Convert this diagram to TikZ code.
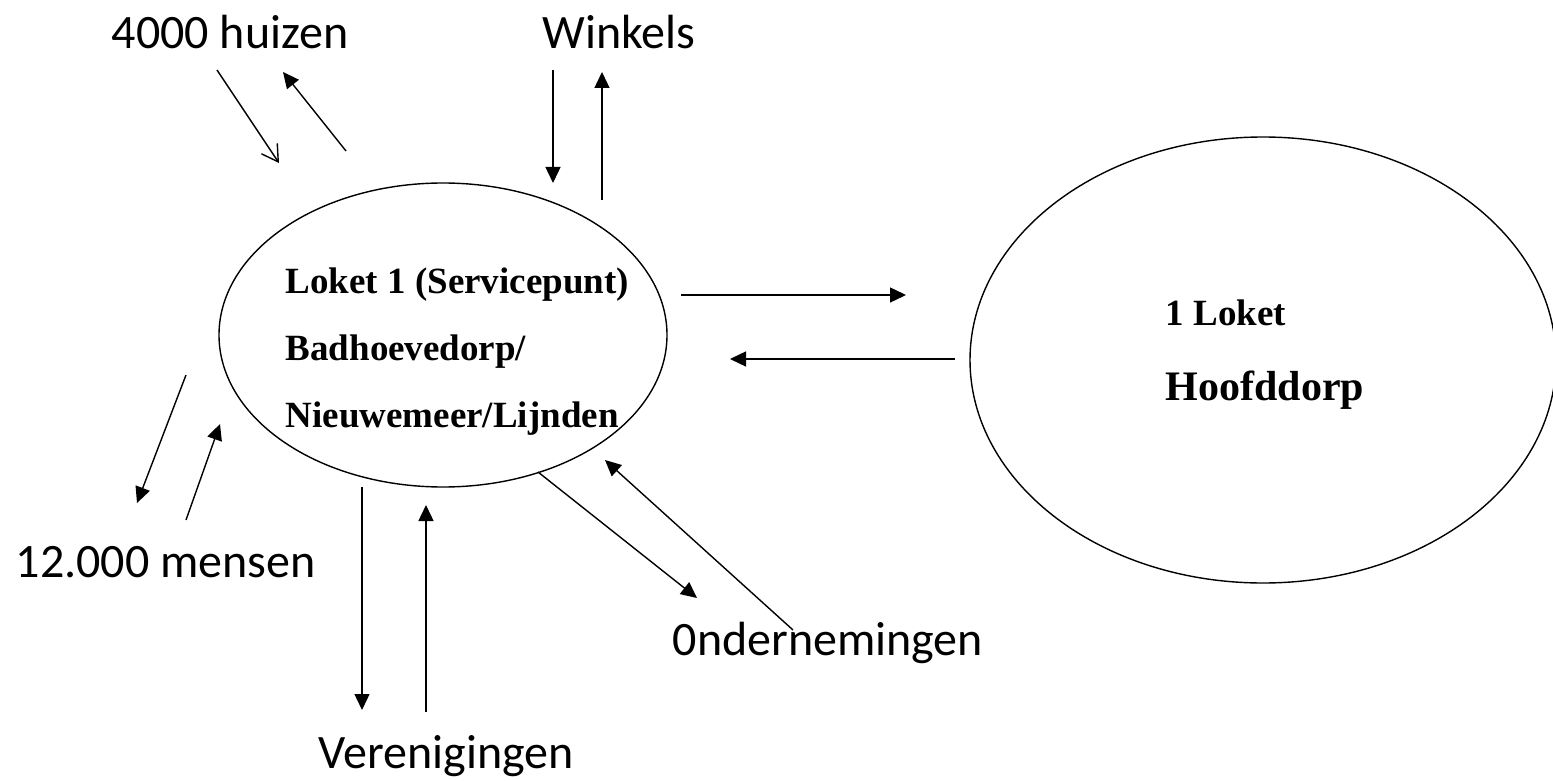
\documentclass[tikz,border=0pt]{standalone}
\usepackage{fontspec}
\setmainfont{Liberation Serif}
\newfontfamily\labelfont{Carlito}
\usetikzlibrary{arrows.meta,shapes.geometric}
\begin{document}
\begin{tikzpicture}[x=1pt,y=-1pt,
  line width=1.4pt,
  oval/.style={draw, ellipse, inner sep=0pt, line width=1.4pt},
  serifbig/.style={anchor=base west, inner sep=0pt, font=\fontsize{37}{44}\selectfont\bfseries},
  seriflarge/.style={anchor=base west, inner sep=0pt, font=\fontsize{42}{50}\selectfont\bfseries},
  outer/.style={anchor=base west, inner sep=0pt, font=\labelfont\fontsize{48}{56}\selectfont},
  flow/.style={-{Triangle[length=16pt,width=15pt]}},
  openflow/.style={-{Straight Barb[length=16pt,width=19pt]}}
]
\useasboundingbox (0,0) rectangle (1553,781);

% ellipses
\node[oval, minimum width=448pt, minimum height=304pt] (loket) at (443,335) {};
\node[oval, minimum width=586pt, minimum height=446pt] (hoofd) at (1263,360) {};

% texts inside ellipses
\node[serifbig] (l1) at (285,293) {Loket 1 (Servicepunt)};
\node[serifbig] (l2) at (285,360) {Badhoevedorp/};
\node[serifbig] (l3) at (285,427) {Nieuwemeer/Lijnden};
\node[serifbig] (h1) at (1165,325) {1 Loket};
\node[seriflarge] (h2) at (1165,400) {Hoofddorp};

% outer labels
\node[outer] (huizen) at (111,49) {4000 huizen};
\node[outer] (winkels) at (542,49) {Winkels};
\node[outer] (mensen) at (15,577) {12.000 mensen};
\node[outer] (onder) at (672,655) {0ndernemingen};
\node[outer] (veren) at (318,768) {Verenigingen};

% arrow end points
\coordinate (a1s) at (217,70);  \coordinate (a1e) at (279,163);
\coordinate (a2s) at (346,151); \coordinate (a2e) at (283,72);
\coordinate (w1s) at (553,70);  \coordinate (w1e) at (553,183);
\coordinate (w2s) at (602,200); \coordinate (w2e) at (602,72);
\coordinate (h1s) at (681,295); \coordinate (h1e) at (906,295);
\coordinate (h2s) at (955,359); \coordinate (h2e) at (730,359);
\coordinate (m1s) at (186,375); \coordinate (m1e) at (137,503);
\coordinate (m2s) at (186,520); \coordinate (m2e) at (220,424);
\coordinate (v1s) at (362,487); \coordinate (v1e) at (362,710);
\coordinate (v2s) at (426,712); \coordinate (v2e) at (426,505);
\coordinate (o1s) at (538,472); \coordinate (o1e) at (697,598);
\coordinate (o2s) at (793,630); \coordinate (o2e) at (605,460);

% connectors
\draw[openflow] (a1s) -- (a1e);
\draw[flow] (a2s) -- (a2e);
\draw[flow] (w1s) -- (w1e);
\draw[flow] (w2s) -- (w2e);
\draw[flow] (h1s) -- (h1e);
\draw[flow] (h2s) -- (h2e);
\draw[flow] (m1s) -- (m1e);
\draw[flow] (m2s) -- (m2e);
\draw[flow] (v1s) -- (v1e);
\draw[flow] (v2s) -- (v2e);
\draw[flow] (o1s) -- (o1e);
\draw[flow] (o2s) -- (o2e);
\end{tikzpicture}
\end{document}
